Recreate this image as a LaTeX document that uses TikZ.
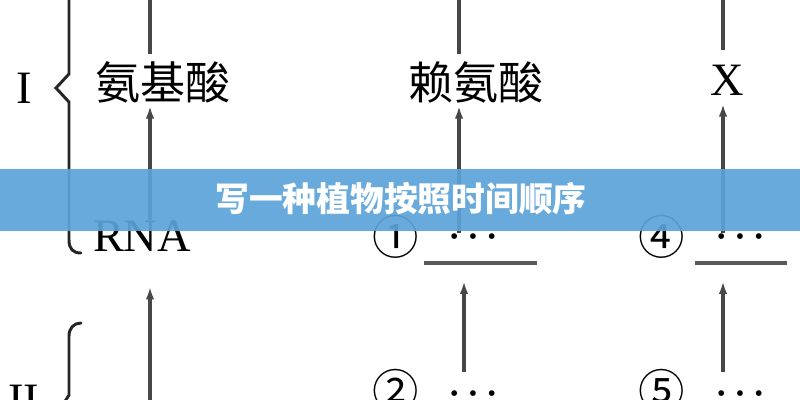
\documentclass[tikz,border=0pt]{standalone}
\usepackage{fontspec}
\setmainfont{Liberation Serif}
\newfontfamily\cjk{Noto Sans CJK SC}
\usepackage{tikz}
\usetikzlibrary{arrows.meta}
\definecolor{banner}{RGB}{92,163,217}
\newcommand{\threedots}{•\hspace{7.4pt}•\hspace{7.4pt}•}
\tikzstyle{word}=[inner sep=0pt,font=\cjk\fontsize{32}{32}\selectfont]
\tikzstyle{latin}=[inner sep=0pt,font=\fontsize{33}{33}\selectfont]
\tikzstyle{num}=[inner sep=0pt,font=\cjk\fontsize{33}{33}\selectfont]
\tikzstyle{dots}=[inner sep=0pt,font=\fontsize{17}{17}\selectfont]
\tikzstyle{up}=[-{Latex[length=9pt,width=6pt]},line width=2.5pt,draw=black!72]
\tikzstyle{brace}=[line width=2.1pt,draw=black!85,line cap=round]
\tikzstyle{bar}=[line width=2.8pt,draw=black!65]

\begin{document}
\begin{tikzpicture}[x=0.025cm,y=-0.025cm]
        \useasboundingbox (0,0) rectangle (800,400);
        \clip (0,0) rectangle (800,400);
        % columns
        \coordinate (col1) at (150,-20);
        \coordinate (col2) at (459,-20);
        \coordinate (col2b) at (464,420);
        \coordinate (col3) at (723,-20);
        \coordinate (col3b) at (723,420);
        \coordinate (bot1) at (150,420);
        % top row
        \node at ( 24, 88) [latin] (one) {I};
        \node at (163, 82) [word] (aa) {氨基酸};
        \node at (476, 82) [word] (lai) {赖氨酸};
        \node at (727, 80) [latin] (x) {X};
        % middle row
        \node at (142,236) [latin] (rna) {RNA};
        \node at (396,237) [num] (c1) {①};
        \node at (473,239) [dots] (d1) {\threedots};
        \node at (662,237) [num] (c4) {④};
        \node at (740,239) [dots] (d4) {\threedots};
        \coordinate (b1l) at (424,263);
        \coordinate (b1r) at (537,263);
        \coordinate (b4l) at (695,263);
        \coordinate (b4r) at (787,263);
        \draw[bar] (b1l) -- (b1r);
        \draw[bar] (b4l) -- (b4r);
        % bottom row
        \node at ( 24,400) [latin] (two) {II};
        \node at (396,391) [num] (c2) {②};
        \node at (473,396) [dots] (d2) {\threedots};
        \node at (662,391) [num] (c5) {⑤};
        \node at (740,396) [dots] (d5) {\threedots};
        % braces
        \draw[brace] (69,-5) -- (69,74) -- (56,88) -- (69,102) -- (69,240)
                .. controls (69,249) and (73,253) .. (81,253);
        \draw[brace] (81,323) .. controls (74,323) and (69,328) .. (69,336)
                -- (69,395) -- (62,406);
        % arrows
        \draw[up,shorten <=5pt] (aa.north -| col1) -- (col1);
        \draw[up,shorten <=5pt] (lai.north -| col2) -- (col2);
        \draw[up,shorten <=10pt] (x.north -| col3) -- (col3);
        \draw[up,shorten >=2pt] (rna.north -| col1) -- (aa.south -| col1);
        \draw[up,shorten >=2pt] (d1.north -| col2) -- (lai.south -| col2);
        \draw[up,shorten >=6pt] (d4.north -| col3) -- (x.south -| col3);
        \draw[up,shorten >=25pt] (bot1) -- (rna.south -| col1);
        \draw[up,shorten <=13pt,shorten >=13pt] (d2.north -| col2b) -- (b1l -| col2b);
        \draw[up,shorten <=13pt,shorten >=13pt] (d5.north -| col3b) -- (b4l -| col3b);
        % title banner
        \fill[banner,opacity=0.92] (0,169) rectangle (800,231);
        \node at (401,199) [text=white,inner sep=0pt,font=\cjk\bfseries\fontsize{24}{24}\selectfont] (title) {写一种植物按照时间顺序};
      \end{tikzpicture}
\end{document}
